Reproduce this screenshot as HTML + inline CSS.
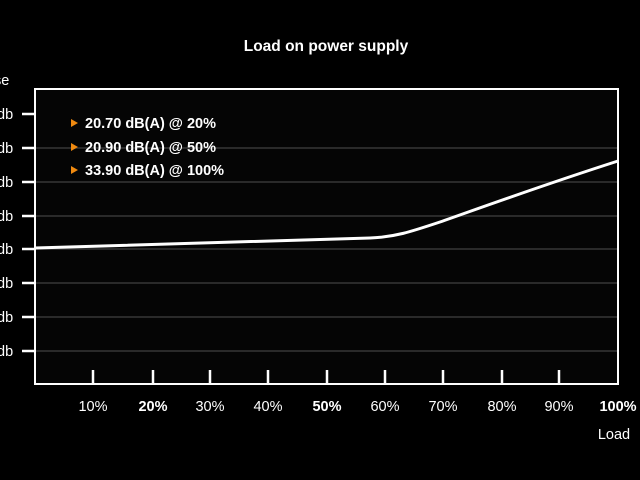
<!DOCTYPE html>
<html><head><meta charset="utf-8"><style>
html,body{margin:0;padding:0;background:#000;width:640px;height:480px;overflow:hidden}
svg text{font-family:"Liberation Sans",sans-serif;fill:#fff}
</style></head><body>
<svg width="640" height="480" xmlns="http://www.w3.org/2000/svg">
<rect width="640" height="480" fill="#000"/>
<text x="326" y="51" font-size="15.5" font-weight="bold" text-anchor="middle">Load on power supply</text>
<text x="-6" y="85" font-size="14.5">se</text>
<rect x="35" y="89" width="583" height="295" fill="#050505"/>
<g stroke="#363636" stroke-width="1.5">
<line x1="35" y1="148" x2="618" y2="148"/><line x1="35" y1="182" x2="618" y2="182"/>
<line x1="35" y1="216" x2="618" y2="216"/><line x1="35" y1="249" x2="618" y2="249"/>
<line x1="35" y1="283" x2="618" y2="283"/><line x1="35" y1="317" x2="618" y2="317"/>
<line x1="35" y1="351" x2="618" y2="351"/>
</g>
<g stroke="#fff" stroke-width="2.5" fill="none">
<path d="M35,89 H618 V384 H35 Z" stroke-width="2"/>
<line x1="22" y1="114" x2="35" y2="114"/><line x1="22" y1="148" x2="35" y2="148"/>
<line x1="22" y1="182" x2="35" y2="182"/><line x1="22" y1="216" x2="35" y2="216"/>
<line x1="22" y1="249" x2="35" y2="249"/><line x1="22" y1="283" x2="35" y2="283"/>
<line x1="22" y1="317" x2="35" y2="317"/><line x1="22" y1="351" x2="35" y2="351"/>
<line x1="93" y1="370" x2="93" y2="384"/><line x1="153" y1="370" x2="153" y2="384"/>
<line x1="210" y1="370" x2="210" y2="384"/><line x1="268" y1="370" x2="268" y2="384"/>
<line x1="327" y1="370" x2="327" y2="384"/><line x1="385" y1="370" x2="385" y2="384"/>
<line x1="443" y1="370" x2="443" y2="384"/><line x1="502" y1="370" x2="502" y2="384"/>
<line x1="559" y1="370" x2="559" y2="384"/>
<path d="M35,248 L370,238 C395,237 410,232 440,222 C480,208 540,186 618,161" stroke-width="3"/>
</g>
<g font-size="14.5">
<text x="-3" y="119">db</text><text x="-3" y="153">db</text><text x="-3" y="187">db</text>
<text x="-3" y="221">db</text><text x="-3" y="254">db</text><text x="-3" y="288">db</text>
<text x="-3" y="322">db</text><text x="-3" y="356">db</text>
</g>
<g font-size="14.5" text-anchor="middle">
<text x="93" y="411">10%</text><text x="153" y="411" font-weight="bold">20%</text>
<text x="210" y="411">30%</text><text x="268" y="411">40%</text>
<text x="327" y="411" font-weight="bold">50%</text><text x="385" y="411">60%</text>
<text x="443" y="411">70%</text><text x="502" y="411">80%</text>
<text x="559" y="411">90%</text><text x="618" y="411" font-weight="bold">100%</text>
<text x="614" y="439">Load</text>
</g>
<g fill="#f08a10">
<path d="M71,119 l7,4 -7,4z"/><path d="M71,143 l7,4 -7,4z"/><path d="M71,166 l7,4 -7,4z"/>
</g>
<g font-size="14.5" font-weight="bold">
<text x="85" y="128">20.70 dB(A) @ 20%</text>
<text x="85" y="152">20.90 dB(A) @ 50%</text>
<text x="85" y="175">33.90 dB(A) @ 100%</text>
</g>
</svg>
</body></html>
